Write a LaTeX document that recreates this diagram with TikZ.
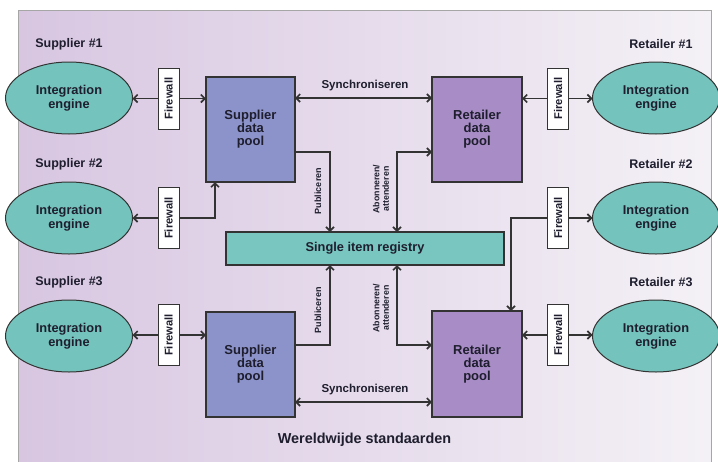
\documentclass[tikz,border=0pt]{standalone}
\usepackage{fontspec}
\setmainfont{Liberation Sans}
\usetikzlibrary{arrows.meta,shapes.geometric,calc}
\definecolor{engcol}{HTML}{74C3BC}
\definecolor{regcol}{HTML}{78C6BF}
\definecolor{supcol}{HTML}{8C93CA}
\definecolor{retcol}{HTML}{A88CC6}
\definecolor{txtcol}{HTML}{1E1E2E}
\definecolor{linecol}{HTML}{333333}
\definecolor{bgleft}{HTML}{D8C6E1}
\definecolor{bgright}{HTML}{F4F1F6}
\tikzset{
  every node/.style={inner sep=0pt, outer sep=0pt, text=txtcol, font=\bfseries},
  engine/.style={ellipse, draw=linecol, line width=1pt, fill=engcol, minimum width=127pt, minimum height=72pt, align=center, font=\bfseries\fontsize{12.8}{13.5}\selectfont},
  fwall/.style={draw=linecol, line width=1pt, fill=white, minimum width=21pt, minimum height=61pt},
  fwtext/.style={rotate=90, font=\bfseries\fontsize{11.2}{12}\selectfont},
  pool/.style={draw=linecol, line width=1.2pt, minimum width=89pt, minimum height=105pt, align=center, font=\bfseries\fontsize{13}{13}\selectfont},
  party/.style={font=\bfseries\fontsize{12.5}{14}\selectfont},
  conn/.style={draw=linecol, line width=1.6pt, -{Straight Barb[length=4pt,width=8pt]}},
  dconn/.style={draw=linecol, line width=1.6pt, {Straight Barb[length=4pt,width=8pt]}-{Straight Barb[length=4pt,width=8pt]}},
  small/.style={font=\bfseries\fontsize{9}{9.5}\selectfont, rotate=90, align=center},
  mid/.style={font=\bfseries\fontsize{11.5}{12}\selectfont}
}
\begin{document}
\begin{tikzpicture}[x=1pt,y=-1pt]
\useasboundingbox (0,0) rectangle (718,461);
\fill[white] (0,0) rectangle (718,461);
\shade[left color=bgleft, right color=bgright] (18,10) rectangle (711,462);
\draw[gray!70, line width=0.8pt] (18,462) -- (18,10) -- (711,10) -- (711,462);

% labels
\node[party] (ls1) at (69,44) {Supplier \#1};
\node[party] (ls2) at (69,164) {Supplier \#2};
\node[party] (ls3) at (69,282) {Supplier \#3};
\node[party] (lr1) at (661,44) {Retailer \#1};
\node[party] (lr2) at (661,164) {Retailer \#2};
\node[party] (lr3) at (661,282) {Retailer \#3};

% engines
\node[engine] (es1) at (69,98) {Integration\\engine};
\node[engine] (es2) at (69,218) {Integration\\engine};
\node[engine] (es3) at (69,336) {Integration\\engine};
\node[engine] (er1) at (656,98) {Integration\\engine};
\node[engine] (er2) at (656,218) {Integration\\engine};
\node[engine] (er3) at (656,336) {Integration\\engine};

% firewalls
\node[fwall] (fs1) at (168.5,98.5) {};
\node[fwall] (fs2) at (168.5,218) {};
\node[fwall] (fs3) at (168.5,335) {};
\node[fwall] (fr1) at (558,98.5) {};
\node[fwall] (fr2) at (558,218) {};
\node[fwall] (fr3) at (558,335) {};
\foreach \f in {fs1,fs2,fs3,fr1,fr2,fr3} {\node[fwtext] at (\f) {Firewall};}

% pools
\node[pool, fill=supcol] (ps1) at (250.5,129.5) {Supplier\\data\\pool};
\node[pool, fill=retcol, minimum width=90pt] (pr1) at (477,129.5) {Retailer\\data\\pool};
\node[pool, fill=supcol] (ps3) at (250.5,364.5) {Supplier\\data\\pool};
\node[pool, fill=retcol, minimum width=90pt, minimum height=106pt] (pr3) at (477,364) {Retailer\\data\\pool};

% registry
\node[draw=linecol, line width=1.2pt, fill=regcol, minimum width=278pt, minimum height=33pt, font=\bfseries\fontsize{12.8}{14}\selectfont] (reg) at (365,248.5) {Single item registry};

% engine/firewall/pool links
\draw[conn] (fs1.west) -- (es1.east |- fs1.west);
\draw[conn] (fs1.east) -- (fs1.east -| ps1.west);
\draw[conn] (fs2.west) -- (es2.east |- fs2.west);
\draw[conn] (fs2.east) -| ($(ps1.south west)+(9,0)$);
\draw[conn] (fs3.west) -- (es3.east |- fs3.west);
\draw[conn] (fs3.east) -- (fs3.east -| ps3.west);
\draw[conn] (fr1.west) -- (fr1.west -| pr1.east);
\draw[conn] (fr1.east) -- (er1.west |- fr1.east);
\draw[conn] (fr2.east) -- (er2.west |- fr2.east);
\draw[conn] (fr2.west) -| ($(pr3.north east)+(-11,0)$);
\draw[conn] (fr3.west) -- (fr3.west -| pr3.east);
\draw[conn] (fr3.east) -- (er3.west |- fr3.east);

% synchronise
\draw[dconn] (ps1.east |- 0,98) -- (pr1.west |- 0,98);
\node[mid] (sy1) at (365,86) {Synchroniseren};
\draw[dconn] (ps3.east |- 0,402) -- (pr3.west |- 0,402);
\node[mid] (sy2) at (365,390) {Synchroniseren};

% publish
\draw[conn] (ps1.east |- 0,152) -| (330,0 |- reg.north);
\draw[conn] (ps3.east |- 0,345) -| (330,0 |- reg.south);
\node[small] (pu1) at (318,191) {Publiceren};
\node[small] (pu2) at (318,310) {Publiceren};

% subscribe
\draw[dconn] (397,0 |- reg.north) |- (pr1.west |- 0,152);
\draw[dconn] (397,0 |- reg.south) |- (pr3.west |- 0,345);
\node[small, font=\bfseries\fontsize{8.8}{9.5}\selectfont] (ab1) at (381,189) {Abonneren/\\attenderen};
\node[small, font=\bfseries\fontsize{8.8}{9.5}\selectfont] (ab2) at (381,308) {Abonneren/\\attenderen};

\node[font=\bfseries\fontsize{14.4}{16}\selectfont] (ws) at (364.5,440) {Wereldwijde standaarden};
\end{tikzpicture}
\end{document}
